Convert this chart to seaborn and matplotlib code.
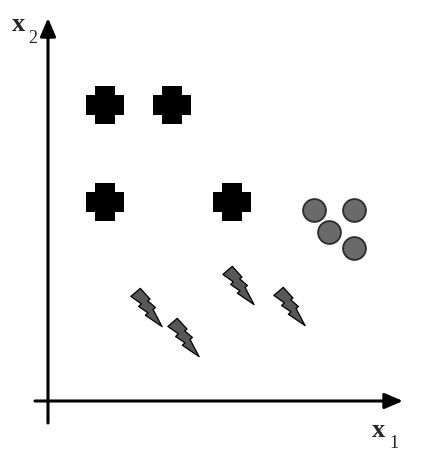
import numpy as np
import pandas as pd
import matplotlib
matplotlib.use("Agg")
import matplotlib.pyplot as plt
from matplotlib.path import Path
import seaborn as sns

# ---- data (arbitrary units, origin at axis intersection) ----
cross_x1 = [5.7, 12.4, 5.7, 18.4]
cross_x2 = [29.6, 29.6, 19.9, 19.9]

circle_x1 = [26.6, 30.6, 28.1, 30.6]
circle_x2 = [19.1, 19.1, 16.9, 15.3]

bolt_x1 = [9.8, 13.5, 19.0, 24.1]
bolt_x2 = [9.4, 6.4, 11.6, 9.5]

axis_names = ["x", "x"]
axis_subs = ["1", "2"]

sns.set_style("white")

fig = plt.figure(figsize=(4.30, 4.61), dpi=100)
ax = fig.add_axes([0, 0, 1, 1])
ax.set_xlim(-4.8, 38.2)
ax.set_ylim(-6.0, 40.1)
ax.axis("off")

# custom marker shapes
t = 0.263
plus_verts = [(-t, 0.5), (t, 0.5), (t, t), (0.5, t), (0.5, -t), (t, -t), (t, -0.5),
              (-t, -0.5), (-t, -t), (-0.5, -t), (-0.5, t), (-t, t), (-t, 0.5)]
plus_path = Path(plus_verts, closed=True)

bp = [(45, 14), (74, 46), (67, 51), (90, 71), (83, 77), (110, 128), (60, 94),
      (68, 87), (40, 68), (48, 60), (17, 38), (45, 14)]
cx, cy = 63.5, 71
bolt_verts = [((x - cx), -(y - cy)) for x, y in bp]
bolt_path = Path(bolt_verts, closed=True)

crosses = pd.DataFrame({"x1": cross_x1, "x2": cross_x2})
circles = pd.DataFrame({"x1": circle_x1, "x2": circle_x2})
bolts = pd.DataFrame({"x1": bolt_x1, "x2": bolt_x2})

sns.scatterplot(data=crosses, x="x1", y="x2", marker=plus_path, s=760,
                color="black", linewidth=0, ax=ax)
sns.scatterplot(data=circles, x="x1", y="x2", marker="o", s=270,
                color="#6a6a6a", edgecolor="#2b2b2b", linewidth=1.3, ax=ax)
sns.scatterplot(data=bolts, x="x1", y="x2", marker=bolt_path, s=760,
                color="#575757", edgecolor="black", linewidth=0.9, ax=ax)

# axes arrows
arrow = dict(arrowstyle="-|>,head_length=1.1,head_width=0.47", lw=2.2,
             color="black", mutation_scale=10, shrinkA=0, shrinkB=0)
ax.annotate("", xy=(35.5, 0), xytext=(-1.3, 0), arrowprops=arrow)
ax.annotate("", xy=(0, 38.3), xytext=(0, -2.2), arrowprops=arrow)

ax.set_xlabel("")
ax.set_ylabel("")

serif = "Liberation Serif"
# x2 label
fig.text(12 / 430, 1 - 31 / 461, axis_names[1], fontsize=19, fontweight="bold",
         family=serif, va="baseline", ha="left")
fig.text(28 / 430, 1 - 43 / 461, axis_subs[1], fontsize=13,
         family=serif, va="baseline", ha="left")
# x1 label
fig.text(372 / 430, 1 - 437 / 461, axis_names[0], fontsize=19, fontweight="bold",
         family=serif, va="baseline", ha="left")
fig.text(389 / 430, 1 - 448 / 461, axis_subs[0], fontsize=13,
         family=serif, va="baseline", ha="left")

fig.savefig("out.png", dpi=100, facecolor="white")
